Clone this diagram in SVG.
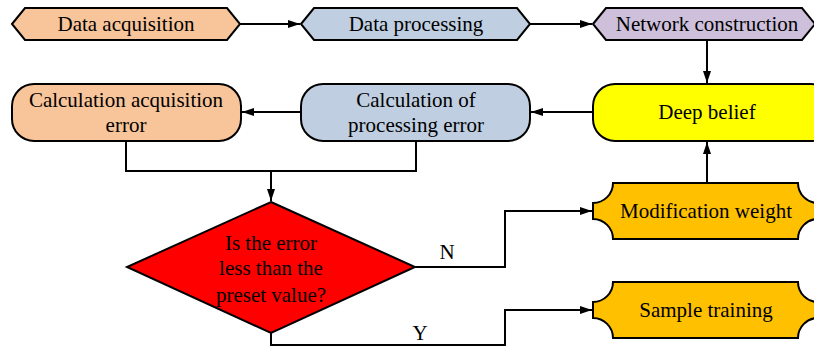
<svg xmlns="http://www.w3.org/2000/svg" width="814" height="347" viewBox="0 0 814 347">
<style>
.s{stroke:#000;stroke-width:2;}
.t{font-family:"Liberation Serif","Times New Roman",serif;font-size:21px;fill:#000;text-anchor:middle;}
.c{fill:none;stroke:#000;stroke-width:2;}
</style>
<defs>
<marker id="ah" viewBox="0 0 12 10" refX="12" refY="5" markerWidth="12" markerHeight="10" markerUnits="userSpaceOnUse" orient="auto">
<path d="M0,1 L12,5 L0,9 Z" fill="#000"/>
</marker>
</defs>
<rect width="814" height="347" fill="#fff"/>
<g id="n1">
<polygon class="s" fill="#F8C49A" points="12,24 25,8 227,8 240,24 227,40 25,40"/>
<text class="t" x="126" y="31">Data acquisition</text>
</g>
<g id="n2">
<polygon class="s" fill="#BFCFE1" points="301,24 314,8 517,8 530,24 517,40 314,40"/>
<text class="t" x="416" y="31">Data processing</text>
</g>
<g id="n3">
<polygon class="s" fill="#CEC0DA" points="593,24 606,8 802,8 815,24 802,40 606,40"/>
<text class="t" x="707" y="31">Network construction</text>
</g>
<g id="n4">
<rect class="s" fill="#F8C49A" x="12" y="84" width="229" height="57" rx="22"/>
<text class="t" x="126" y="107">Calculation acquisition</text>
<text class="t" x="126" y="132">error</text>
</g>
<g id="n5">
<rect class="s" fill="#BFCFE1" x="301" y="84" width="229" height="57" rx="22"/>
<text class="t" x="416" y="107">Calculation of</text>
<text class="t" x="416" y="132">processing error</text>
</g>
<g id="n6">
<rect class="s" fill="#FFFF00" x="593" y="84" width="240" height="57" rx="22"/>
<text class="t" x="707" y="119">Deep belief</text>
</g>
<g id="n7">
<path class="s" fill="#FF0000" d="M271,202 L415,267 L271,333 L127,267 Z"/>
<text class="t" x="271" y="250">Is the error</text>
<text class="t" x="271" y="275">less than the</text>
<text class="t" x="271" y="302">preset value?</text>
</g>
<g id="n8">
<path class="s" fill="#FFC000" d="M613,183 L798,183 A20,20 0 0 0 818,203 L818,219 A20,20 0 0 0 798,239 L613,239 A20,20 0 0 0 593,219 L593,203 A20,20 0 0 0 613,183 Z"/>
<text class="t" x="706" y="218">Modification weight</text>
</g>
<g id="n9">
<path class="s" fill="#FFC000" d="M613,282 L798,282 A20,20 0 0 0 818,302 L818,318 A20,20 0 0 0 798,338 L613,338 A20,20 0 0 0 593,318 L593,302 A20,20 0 0 0 613,282 Z"/>
<text class="t" x="706" y="317">Sample training</text>
</g>
<g id="connectors">
<line class="c" x1="240" y1="24" x2="300" y2="24" marker-end="url(#ah)"/>
<line class="c" x1="530" y1="24" x2="592" y2="24" marker-end="url(#ah)"/>
<line class="c" x1="707" y1="40" x2="707" y2="83" marker-end="url(#ah)"/>
<line class="c" x1="593" y1="112" x2="531" y2="112" marker-end="url(#ah)"/>
<line class="c" x1="301" y1="112" x2="242" y2="112" marker-end="url(#ah)"/>
<polyline class="c" points="126,141 126,171 416,171 416,141"/>
<line class="c" x1="271" y1="171" x2="271" y2="201" marker-end="url(#ah)"/>
<polyline class="c" points="415,267 505,267 505,211 592,211" marker-end="url(#ah)"/>
<polyline class="c" points="271,333 271,345 505,345 505,310 592,310" marker-end="url(#ah)"/>
<line class="c" x1="707" y1="183" x2="707" y2="142" marker-end="url(#ah)"/>
<text class="t" x="447" y="259">N</text>
<text class="t" x="420" y="340">Y</text>
</g>
</svg>
